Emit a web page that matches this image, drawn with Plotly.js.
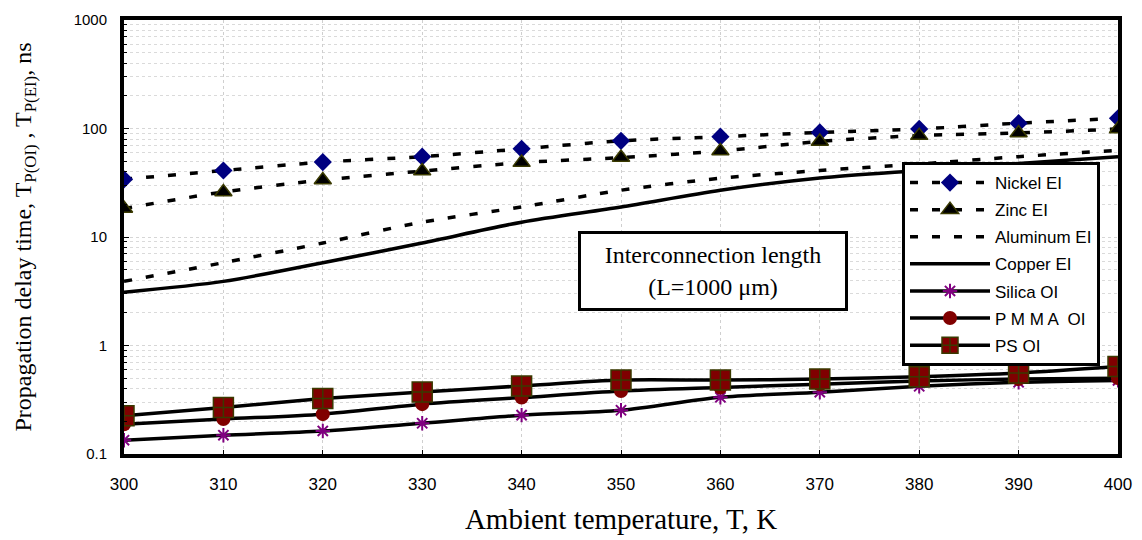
<!DOCTYPE html>
<html>
<head>
<meta charset="utf-8">
<script src="https://cdn.plot.ly/plotly-3.0.1.min.js"></script>
<style>html,body{margin:0;padding:0;background:#fff;}#chart{width:1142px;height:540px;}</style>
</head>
<body>
<div id="chart"></div>
<script>
const temps = [300, 310, 320, 330, 340, 350, 360, 370, 380, 390, 400];
const nickelEI = [34, 41, 49, 55, 65, 77, 84, 92, 99, 112, 124];
const zincEI = [18.3, 26, 33.5, 40.5, 48.5, 54, 62, 76, 86, 91, 99];
const aluminumEI = [3.9, 5.8, 8.8, 13.7, 18.9, 27, 34.8, 41, 47, 55, 63];
const copperEI = [3.1, 3.9, 5.8, 8.8, 13.7, 18.9, 27, 35, 41, 47.6, 55];
const silicaOI = [0.134, 0.149, 0.163, 0.192, 0.228, 0.253, 0.333, 0.371, 0.421, 0.458, 0.477];
const pmmaOI = [0.188, 0.21, 0.233, 0.288, 0.331, 0.38, 0.41, 0.44, 0.472, 0.49, 0.5];
const psOI = [0.225, 0.268, 0.324, 0.373, 0.424, 0.48, 0.48, 0.49, 0.515, 0.558, 0.64];
const yTickVals = [0.1, 1, 10, 100, 1000];
const yTickText = ['0.1', '1', '10', '100', '1000'];

const dashPat = '8px,14px';
const LW = 3.5;
function tr(name, y, opts) {
  return Object.assign({
    x: temps, y: y, name: name, type: 'scatter', legendgroup: name,
    line: {color: 'black', width: LW, shape: 'spline', smoothing: 0.8}
  }, opts);
}
const data = [
  tr('Nickel EI', nickelEI, {mode: 'lines+markers', line: {color: 'black', width: LW, dash: dashPat, shape: 'spline', smoothing: 0.8},
    marker: {symbol: 'diamond', size: 14, color: '#000080'}}),
  tr('Zinc EI', zincEI, {mode: 'lines+markers', line: {color: 'black', width: LW, dash: dashPat, shape: 'spline', smoothing: 0.8},
    marker: {symbol: 'triangle-up', size: 15, color: '#000000', line: {color: '#3a3a00', width: 1.5}}}),
  tr('Aluminum EI', aluminumEI, {mode: 'lines', line: {color: 'black', width: LW, dash: dashPat, shape: 'spline', smoothing: 0.8}}),
  tr('Copper EI', copperEI, {mode: 'lines'}),
  tr('Silica OI', silicaOI, {mode: 'lines+markers', marker: {symbol: 'asterisk-open', size: 12, color: '#800080', line: {color: '#800080', width: 2}}}),
  tr('P M M A  OI', pmmaOI, {mode: 'lines+markers', marker: {symbol: 'circle', size: 14, color: '#800000'}}),
  tr('PS OI', psOI, {mode: 'lines+markers', marker: {symbol: 'square-cross', size: 20, color: '#800000', line: {color: '#3a3a00', width: 1.5}}})
];

const layout = {
  width: 1142, height: 540,
  margin: {l: 124, r: 24, t: 20, b: 86},
  paper_bgcolor: 'white', plot_bgcolor: 'white',
  showlegend: true,
  font: {family: 'Liberation Sans, Arial, sans-serif', color: 'black'},
  xaxis: {
    range: [300, 400], tickvals: temps, ticks: 'inside', ticklen: 4, tickcolor: 'black', tickwidth: 1,
    showline: true, linecolor: 'black', linewidth: 4, mirror: true,
    showgrid: true, gridcolor: '#cfcfcf', griddash: 'dot', gridwidth: 1,
    zeroline: false, tickfont: {size: 17, family: 'Liberation Sans, Arial, sans-serif'},
    ticklabelstandoff: 12,
    title: {text: 'Ambient temperature, T, K', font: {family: 'Liberation Serif, Times New Roman, serif', size: 29}, standoff: 16}
  },
  yaxis: {
    type: 'log', range: [-1, 3], tickvals: yTickVals, ticktext: yTickText,
    ticks: 'inside', ticklen: 5, tickcolor: 'black', tickwidth: 1,
    showline: true, linecolor: 'black', linewidth: 4, mirror: true,
    showgrid: true, gridcolor: '#d6d6d6', griddash: 'dot', gridwidth: 1,
    minor: {dtick: 'D1', showgrid: true, gridcolor: '#dadada', griddash: 'dot', gridwidth: 1, ticks: 'inside', ticklen: 3, tickcolor: 'black'},
    zeroline: false, tickfont: {size: 15, family: 'Liberation Sans, Arial, sans-serif'},
    ticklabelstandoff: 10,
    title: {text: 'Propagation delay time, T<sub>P(OI)</sub> , T<sub>P(EI)</sub>, ns', font: {family: 'Liberation Serif, Times New Roman, serif', size: 24}, standoff: 36}
  },
  legend: {
    x: 0.7827, y: 0.6728, xanchor: 'left', yanchor: 'top',
    bgcolor: 'white', bordercolor: 'black', borderwidth: 3,
    font: {size: 17, family: 'Liberation Sans, Arial, sans-serif'},
    tracegroupgap: 2, itemwidth: 80
  },
  annotations: [{
    xref: 'paper', yref: 'paper', x: 0.593, y: 0.4228, xanchor: 'center', yanchor: 'middle',
    text: 'Interconnection length<br>(L=1000 μm)', showarrow: false,
    font: {family: 'Liberation Serif, Times New Roman, serif', size: 24, color: 'black'},
    bgcolor: 'white', bordercolor: 'black', borderwidth: 3, borderpad: 4,
    width: 256, height: 66
  }]
};

Plotly.newPlot('chart', data, layout, {displayModeBar: false, staticPlot: true});
</script>
</body>
</html>
